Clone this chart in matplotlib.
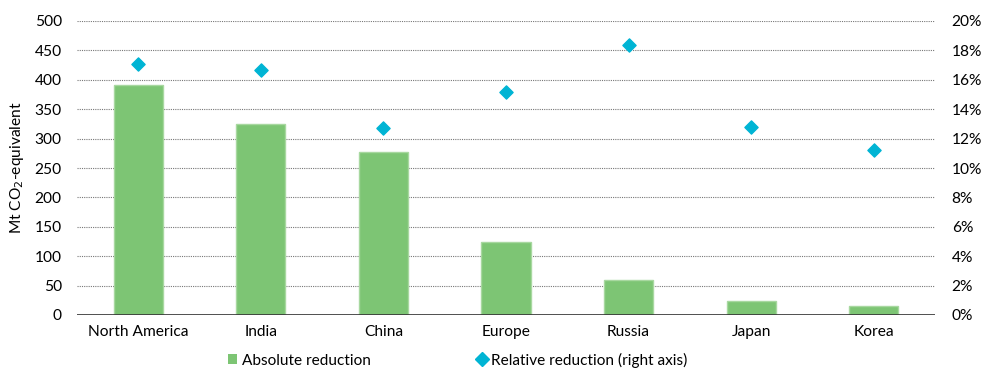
import matplotlib
matplotlib.use("Agg")
import matplotlib.pyplot as plt
from matplotlib.ticker import FuncFormatter
from matplotlib.lines import Line2D
from matplotlib.patches import Patch

categories = ["North America", "India", "China", "Europe", "Russia", "Japan", "Korea"]
absolute = [392, 324, 278, 124, 59, 23, 15]
relative = [17.1, 16.7, 12.7, 15.2, 18.4, 12.8, 11.2]

plt.rcParams['font.family'] = ['Lato', 'DejaVu Sans']
plt.rcParams['font.size'] = 11.2

fig = plt.figure(figsize=(9.81, 3.69), dpi=100)
ax = fig.add_axes([77/981, 1-315/369, (935-77)/981, (315-21)/369])
ax2 = ax.twinx()

x = list(range(len(categories)))
ax.bar(x, absolute, width=0.4, color="#7DC574", edgecolor="#A8D8A0", linewidth=1, zorder=2)
ax2.scatter(x, relative, marker="D", s=45, color="#00B4D4", zorder=3)

ax.set_xlim(-0.5, len(categories)-0.5)
ax.set_ylim(0, 500)
ax.set_yticks(range(0, 501, 50))
ax2.set_ylim(0, 20)
ax2.set_yticks(range(0, 21, 2))
ax2.yaxis.set_major_formatter(FuncFormatter(lambda v, p: f"{int(v)}%"))

ax.set_xticks(x)
ax.set_xticklabels(categories)
for a in (ax, ax2):
    for s in a.spines.values():
        s.set_visible(False)
    a.tick_params(length=0, labelsize=11.2, colors="#000000")
ax.tick_params(axis='y', pad=11)
ax2.tick_params(axis='y', pad=12)
ax.tick_params(axis='x', pad=7)

ax.grid(axis='y', linestyle=(0, (1, 1)), color="#777777", linewidth=0.8, zorder=0)
ax.set_axisbelow(True)
ax.axhline(0, color="#333333", linewidth=1.2, zorder=4)

ax.set_ylabel("Mt CO$_2$-equivalent", fontsize=11.2, labelpad=6)

handles = [Patch(facecolor="#7DC574", edgecolor="none"),
           Line2D([], [], marker="D", linestyle="none", color="#00B4D4", markersize=7)]
fig.legend(handles, ["Absolute reduction", "Relative reduction (right axis)"],
           loc="center left", bbox_to_anchor=(214/981, 1-360/369), ncol=2, frameon=False,
           fontsize=11.1, handlelength=0.6, handletextpad=0.3, columnspacing=6.9,
           handleheight=0.6)

fig.savefig("out.png", dpi=100)
